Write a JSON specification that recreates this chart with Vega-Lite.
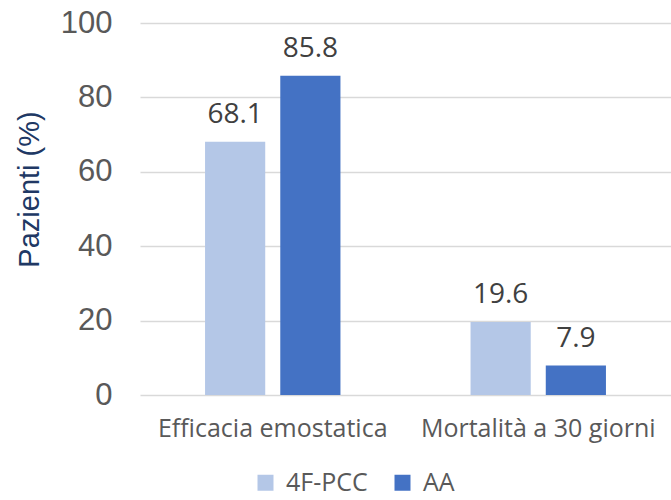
{
  "$schema": "https://vega.github.io/schema/vega-lite/v6.json",
  "width": 531,
  "height": 372,
  "autosize": {"type": "none"},
  "padding": {"left": 140, "top": 23, "right": 0, "bottom": 105},
  "background": "white",
  "config": {"view": {"stroke": null}, "font": "Liberation Sans"},
  "data": {"values": [
    {"categoria": "Efficacia emostatica", "gruppo": "4F-PCC", "valore": 68.1},
    {"categoria": "Efficacia emostatica", "gruppo": "AA", "valore": 85.8},
    {"categoria": "Mortalità a 30 giorni", "gruppo": "4F-PCC", "valore": 19.6},
    {"categoria": "Mortalità a 30 giorni", "gruppo": "AA", "valore": 7.9}
  ]},
  "encoding": {
    "x": {"field": "categoria", "type": "nominal", "sort": null,
      "scale": {"paddingInner": 0.49, "paddingOuter": 0.245},
      "axis": {"title": null, "labelAngle": 0, "domain": false, "ticks": false, "labelFontSize": 25, "labelLimit": 400, "labelColor": "#595959", "labelFont": "Open Sans", "labelPadding": 21}},
    "xOffset": {"field": "gruppo", "type": "nominal", "sort": ["4F-PCC", "AA"], "scale": {"paddingInner": 0.2, "paddingOuter": 0}},
    "y": {"field": "valore", "type": "quantitative",
      "scale": {"domain": [0, 100]},
      "axis": {"title": "Pazienti (%)", "titleFontSize": 29, "titleFontWeight": "normal", "titleColor": "#203864", "titleFont": "Liberation Sans", "titleX": -96, "titleY": 166, "titleBaseline": "bottom", "titleAngle": -90, "titleAlign": "center",
        "values": [0, 20, 40, 60, 80, 100], "domain": false, "ticks": false, "labelFontSize": 31, "labelColor": "#595959", "labelPadding": 28, "gridColor": "#D9D9D9", "gridWidth": 1.5}}
  },
  "layer": [
    {"mark": {"type": "bar"},
      "encoding": {"color": {"field": "gruppo", "type": "nominal", "sort": ["4F-PCC", "AA"],
        "scale": {"range": ["#B4C7E7", "#4472C4"]},
        "legend": {"title": null, "orient": "none", "direction": "horizontal", "legendX": 113, "legendY": 447, "symbolType": "square", "symbolSize": 256, "symbolStrokeWidth": 0, "labelFontSize": 25, "labelColor": "#595959", "labelFont": "Open Sans", "columnPadding": 22, "labelOffset": 8}}}},
    {"mark": {"type": "text", "baseline": "alphabetic", "dy": -19, "fontSize": 28, "color": "#404040", "font": "Open Sans"},
      "encoding": {"text": {"field": "valore", "type": "quantitative", "format": ".1f"}}}
  ]
}
